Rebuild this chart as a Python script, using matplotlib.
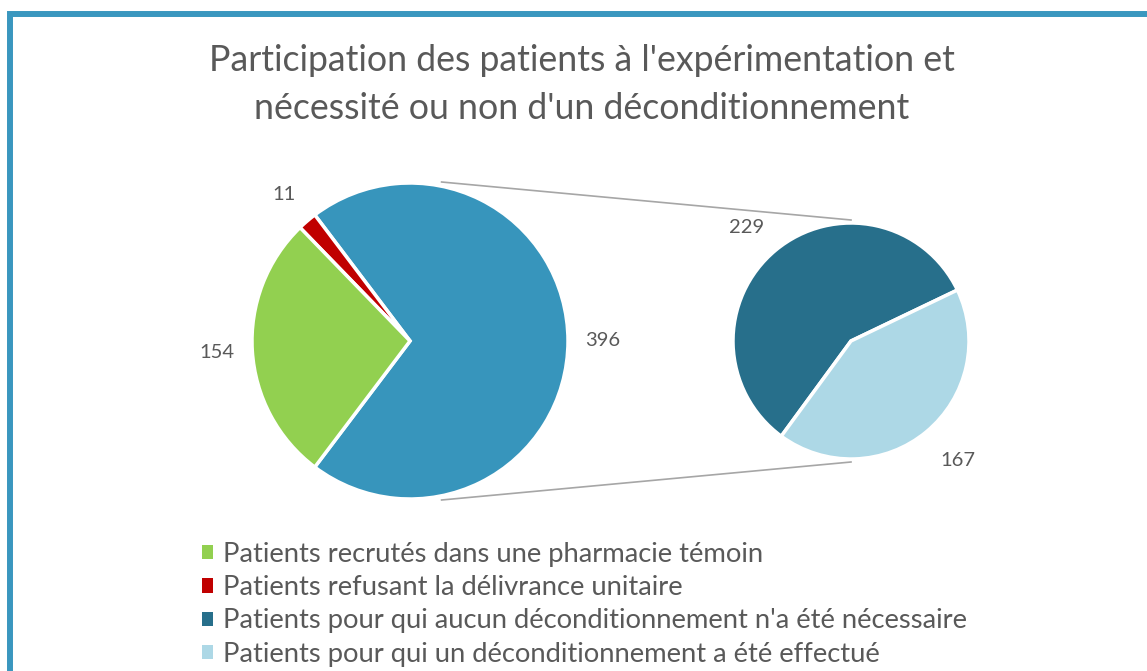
import numpy as np
import matplotlib
matplotlib.use("Agg")
import matplotlib.pyplot as plt
from matplotlib.patches import Rectangle, Patch

plt.rcParams['font.family'] = ['Lato', 'DejaVu Sans']

# donnees
title = "Participation des patients à l'expérimentation et\nnécessité ou non d'un déconditionnement"
legend_labels = ['Patients recrutés dans une pharmacie témoin',
                 'Patients refusant la délivrance unitaire',
                 "Patients pour qui aucun déconditionnement n'a été nécessaire",
                 'Patients pour qui un déconditionnement a été effectué']
main_values = [154, 11]
sub_values = [229, 167]
colors = ['#92D050', '#C00000', '#276F8B', '#ADD8E6']
other_color = '#3795BC'
text_col = '#595959'

W, H = 1147, 671
fig = plt.figure(figsize=(W / 100, H / 100), dpi=100)
ax = fig.add_axes([0, 0, 1, 1])

# camembert principal : "autres" (somme du second) centre sur la droite
other = sum(sub_values)
vals = [other, main_values[1], main_values[0]]
cols = [other_color, colors[1], colors[0]]
c1, r1 = (410, H - 341), 158
start1 = -other / (other + sum(main_values)) * 360 / 2
w1, _ = ax.pie(vals, colors=cols, center=c1, radius=r1, startangle=start1,
               counterclock=True, wedgeprops=dict(edgecolor='white', linewidth=2.5))

# second camembert
c2, r2 = (851, H - 341), 118
w2, _ = ax.pie(sub_values, colors=colors[2:], center=c2, radius=r2, startangle=25.6,
               counterclock=True, wedgeprops=dict(edgecolor='white', linewidth=2.5))

def put_labels(wedges, values, center, radius, offs, dang):
    for w, v, off, da in zip(wedges, values, offs, dang):
        a = np.deg2rad((w.theta1 + w.theta2) / 2 + da)
        ax.text(center[0] + (radius + off) * np.cos(a), center[1] + (radius + off) * np.sin(a),
                str(v), ha='center', va='center', fontsize=14.5, color=text_col)

put_labels(w1, vals, c1, r1, [35, 35, 35], [0, 0, 0])
put_labels(w2, sub_values, c2, r2, [36, 42], [3, 2])

# lignes de liaison
for s in (1, -1):
    ax.plot([c1[0] + 0.2 * r1, c2[0]], [c1[1] + s * (r1 + 1), c2[1] + s * (r2 + 3)],
            color='#A6A6A6', lw=1.2, zorder=0)

ax.set_xlim(0, W)
ax.set_ylim(0, H)
ax.set_aspect('equal')
ax.axis('off')

# cadre
ax.add_patch(Rectangle((10, -50), W + 50, H - 13.5 + 50, fill=False, edgecolor='#3A97BF',
                       lw=4.3, clip_on=False))

ax.text(582, H - 84.5, title, ha='center', va='center', fontsize=25.7, color=text_col,
        linespacing=1.53)

handles = [Patch(facecolor=c) for c in colors]
ax.legend(handles, legend_labels, loc='upper left', bbox_to_anchor=(202, H - 542),
          bbox_transform=ax.transData, frameon=False, fontsize=19.7, labelcolor=text_col,
          handlelength=0.42, handleheight=0.42, handletextpad=0.35, labelspacing=0.3,
          borderpad=0, borderaxespad=0)

fig.savefig('out.png', dpi=100)
